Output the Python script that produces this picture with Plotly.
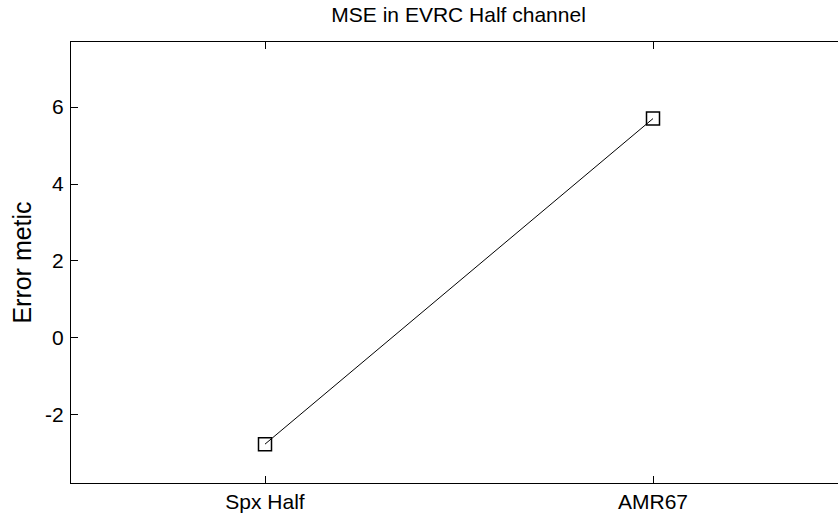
import plotly.graph_objects as go

categories = ["Spx Half", "AMR67"]
positions = [1, 2]
values = [-2.76, 5.70]
ytick_vals = [-2, 0, 2, 4, 6]
ytick_text = ["-2", "0", "2", "4", "6"]

fig = go.Figure()
fig.add_trace(go.Scatter(
    x=positions, y=values, mode="lines+markers",
    line=dict(color="black", width=1),
    marker=dict(symbol="square-open", size=13, color="black", line=dict(width=1.5, color="black")),
    showlegend=False, cliponaxis=False, hoverinfo="skip",
))

W = 847
font = dict(family="Liberation Sans, Arial, sans-serif", size=21, color="black")
fig.update_layout(
    width=W, height=516,
    margin=dict(l=71, r=0, t=42, b=33, autoexpand=False),
    paper_bgcolor="white", plot_bgcolor="white",
    font=font,
    title=dict(text="MSE in EVRC Half channel", x=458.6/W, xanchor="center",
               y=1 - 15/516, yanchor="middle", yref="container", font=font),
    xaxis=dict(range=[0.5, 2.5], tickvals=positions, ticktext=categories,
               ticks="inside", ticklen=7, tickcolor="black", showline=True, linecolor="black",
               linewidth=1.2, mirror="ticks", showgrid=False, zeroline=False, automargin=False,
               ticklabelstandoff=0),
    yaxis=dict(range=[-3.77, 7.69], tickvals=ytick_vals, ticktext=ytick_text, ticks="inside",
               ticklen=7, tickcolor="black", showline=True, linecolor="black", linewidth=1.2,
               mirror=False, showgrid=False, zeroline=False, automargin=False,
               ticklabelstandoff=2,
               title=dict(text="Error metic", standoff=6)),
)
fig.write_html(
    "out.html",
    config={"displayModeBar": False},
    post_script="document.body.style.margin='0';document.body.style.overflow='hidden';",
)
